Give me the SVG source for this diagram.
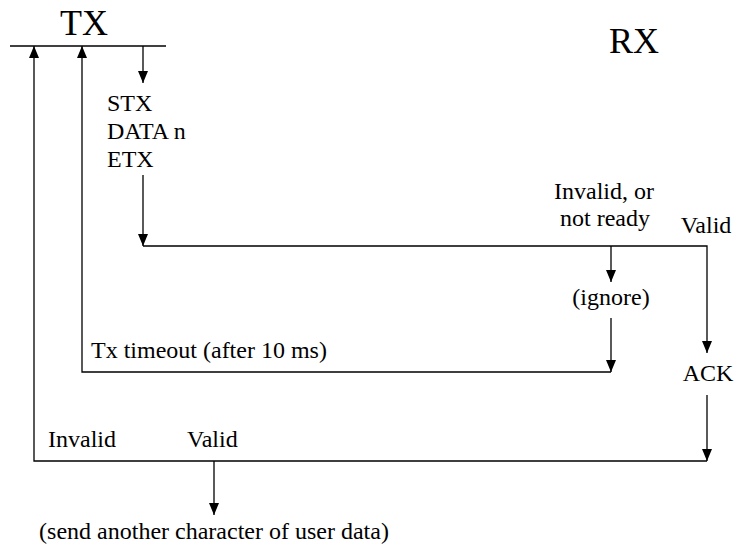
<svg xmlns="http://www.w3.org/2000/svg" width="737" height="550" viewBox="0 0 737 550">
<style>
text{font-family:"Liberation Serif","Times New Roman",serif;font-size:24px;fill:#000}
.big{font-size:36px}
.c{text-anchor:middle}
.ln{fill:none;stroke:#000;stroke-width:1.3}
</style>
<defs>
<marker id="ah" viewBox="0 0 12 10" refX="12" refY="5" markerWidth="12" markerHeight="10" markerUnits="userSpaceOnUse" orient="auto">
<path d="M0,0 L12,5 L0,10 z" fill="#000"/>
</marker>
</defs>
<rect width="737" height="550" fill="#fff"/>
<g id="tx"><text class="big c" x="84" y="35">TX</text></g>
<g id="rx"><text class="big c" x="634" y="53">RX</text></g>
<g id="frame"><text x="107" y="111">STX</text><text x="107" y="139">DATA n</text><text x="107" y="167">ETX</text></g>
<g id="invalid-label"><text class="c" x="604" y="199">Invalid, or</text><text class="c" x="605" y="226">not ready</text></g>
<g id="valid-label"><text class="c" x="706" y="233">Valid</text></g>
<g id="ignore"><text class="c" x="611" y="305">(ignore)</text></g>
<g id="timeout"><text x="91" y="358">Tx timeout (after 10 ms)</text></g>
<g id="ack"><text class="c" x="708" y="381">ACK</text></g>
<g id="tx-invalid"><text x="48" y="447">Invalid</text></g>
<g id="tx-valid"><text x="187" y="447">Valid</text></g>
<g id="send-next"><text class="c" x="214" y="539">(send another character of user data)</text></g>
<g id="connectors">
<path class="ln" d="M10,46 H166"/>
<path class="ln" d="M143,46 V83" marker-end="url(#ah)"/>
<path class="ln" d="M143,175 V246" marker-end="url(#ah)"/>
<path class="ln" d="M143,246 H707 V353" marker-end="url(#ah)"/>
<path class="ln" d="M611,246 V282" marker-end="url(#ah)"/>
<path class="ln" d="M611,318 V372" marker-end="url(#ah)"/>
<path class="ln" d="M611,372 H82 V46" marker-end="url(#ah)"/>
<path class="ln" d="M707,395 V461" marker-end="url(#ah)"/>
<path class="ln" d="M707,461 H34 V46" marker-end="url(#ah)"/>
<path class="ln" d="M214,461 V515" marker-end="url(#ah)"/>
</g>
</svg>
